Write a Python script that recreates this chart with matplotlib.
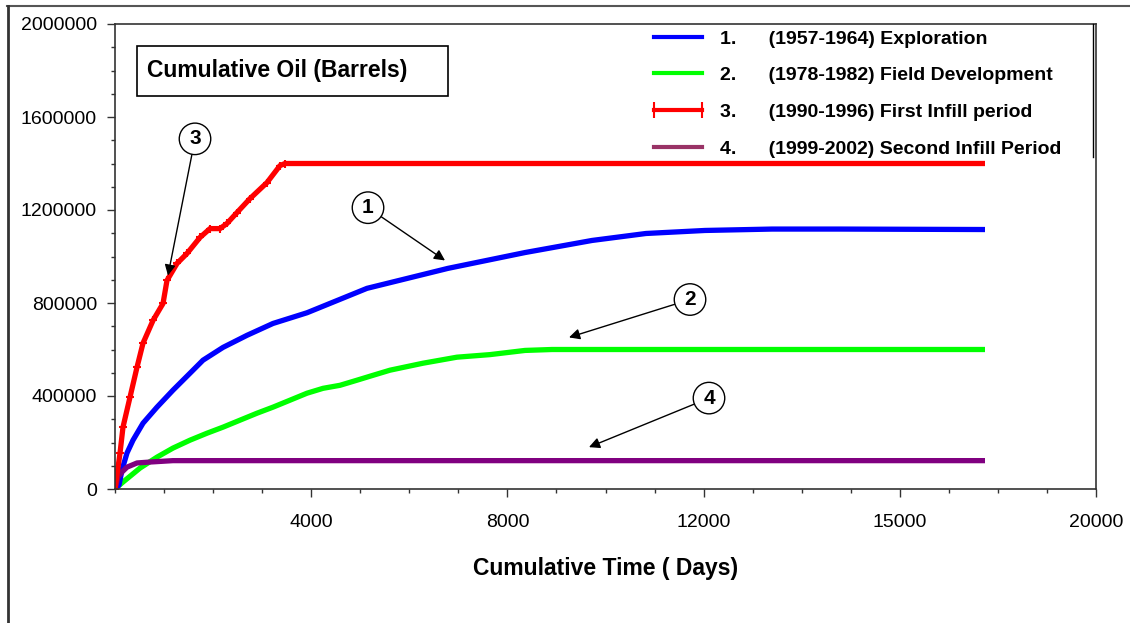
import matplotlib
matplotlib.use("Agg")
import matplotlib.pyplot as plt
from matplotlib.lines import Line2D
from matplotlib.patches import Rectangle
from matplotlib.ticker import MultipleLocator

plt.rcParams['font.family'] = ['Liberation Sans', 'DejaVu Sans']

# Kurve 1: Exploration (1957-1964)
days_1 = [0, 82, 143, 245, 367, 571, 856, 1182, 1529, 1794, 2202, 2691, 3221, 3914,
          5137, 6789, 8359, 9725, 10825, 12028, 13394, 14780, 17737]
oil_1 = [0, 17000, 82000, 155000, 210000, 283000, 352000, 425000, 498000, 554000,
         609000, 661000, 712000, 758000, 863000, 949000, 1017000, 1069000, 1099000,
         1112000, 1118000, 1118000, 1116000]

# Kurve 2: Field Development (1978-1982)
days_2 = [0, 163, 510, 856, 1182, 1529, 1876, 2202, 2548, 2895, 3221, 3568, 3914,
          4241, 4587, 4934, 5260, 5606, 6279, 6972, 7645, 8359, 8909, 17737]
oil_2 = [0, 30000, 90000, 137000, 176000, 210000, 240000, 266000, 296000, 326000,
         352000, 382000, 412000, 433000, 446000, 468000, 489000, 511000, 541000,
         567000, 578000, 596000, 600000, 600000]

# Kurve 3: First Infill period (1990-1996)
days_3 = [0, 102, 163, 306, 449, 571, 775, 979, 1060, 1264, 1468, 1733, 1937, 2141,
          2283, 2487, 2752, 3099, 3364, 3466, 17737]
oil_3 = [0, 154000, 266000, 395000, 524000, 627000, 725000, 798000, 897000, 970000,
         1013000, 1082000, 1120000, 1120000, 1142000, 1189000, 1249000, 1318000,
         1391000, 1400000, 1400000]

# Kurve 4: Second Infill Period (1999-2002)
days_4 = [0, 61, 143, 245, 449, 714, 1182, 17737]
oil_4 = [0, 52000, 73000, 94000, 112000, 116000, 122000, 122000]

labels = ["1.      (1957-1964) Exploration",
          "2.      (1978-1982) Field Development",
          "3.      (1990-1996) First Infill period",
          "4.      (1999-2002) Second Infill Period"]

x_ticks = [4000, 8000, 12000, 16000, 20000]
x_tick_labels = ["4000", "8000", "12000", "15000", "20000"]
y_ticks = [0, 400000, 800000, 1200000, 1600000, 2000000]

# Nummern-Kreise: (Text, Pfeilspitze, Kreismitte)
callouts = [("3", (1080, 918000), (1631, 1506000)),
            ("1", (6728, 983000), (5158, 1210000)),
            ("2", (9256, 652000), (11723, 815000)),
            ("4", (9663, 180000), (12110, 391000))]

fig = plt.figure(figsize=(11.3, 6.23), dpi=100)
ax = fig.add_axes([115 / 1130, 1 - 489 / 623, 981 / 1130, 465 / 623])

ax.plot(days_2, oil_2, color='#00ff00', lw=3.8, solid_capstyle='butt')
ax.plot(days_1, oil_1, color='#0000ff', lw=3.8, solid_capstyle='butt')
ax.plot(days_4, oil_4, color='#800080', lw=3.8, solid_capstyle='butt')
ax.plot(days_3, oil_3, color='#ff0000', lw=3.8, marker='+', ms=6, mew=1.5,
        markevery=slice(0, -1), solid_capstyle='butt')

ax.set_xlim(0, 20000)
ax.set_ylim(0, 2000000)
ax.set_xticks(x_ticks)
ax.set_xticklabels(x_tick_labels)
ax.set_yticks(y_ticks)
ax.set_yticklabels([str(v) for v in y_ticks])
ax.xaxis.set_minor_locator(MultipleLocator(1000))
ax.yaxis.set_minor_locator(MultipleLocator(100000))
ax.tick_params(which='major', direction='out', length=6, width=1, color='#333333',
               labelsize=14)
ax.tick_params(which='minor', direction='out', length=3, width=1, color='#333333')
ax.tick_params(axis='x', which='major', pad=12)
ax.tick_params(axis='y', which='major', pad=7)
for s in ax.spines.values():
    s.set_color('#333333')
    s.set_linewidth(1.2)

ax.set_xlabel("Cumulative Time ( Days)", fontsize=16.5, fontweight='bold', labelpad=19)

# Textkasten oben links
ax.add_patch(Rectangle((0.0224, 0.845), 0.317, 0.1075, transform=ax.transAxes,
                       fill=False, ec='black', lw=1.2))
ax.text(0.0326, 0.899, "Cumulative Oil (Barrels)", transform=ax.transAxes,
        fontsize=16.5, fontweight='bold', va='center', ha='left')

for num, tip, pos in callouts:
    ax.annotate(num, xy=tip, xytext=pos, ha='center', va='center',
                fontsize=15, fontweight='bold',
                bbox=dict(boxstyle='circle,pad=0.3', fc='white', ec='black', lw=1),
                arrowprops=dict(arrowstyle='-|>', color='black', lw=1,
                                mutation_scale=16, shrinkA=0, shrinkB=0))

handles = [Line2D([], [], color='#0000ff', lw=3),
           Line2D([], [], color='#00ff00', lw=3),
           Line2D([], [], color='#ff0000', lw=3, marker='|', ms=12, mew=1.5),
           Line2D([], [], color='#993366', lw=3)]
ax.legend(handles, labels, loc='upper left', bbox_to_anchor=(648 / 1130, 1 - 30 / 623),
          bbox_transform=fig.transFigure, frameon=False, borderpad=0, borderaxespad=0,
          handlelength=3.1, handletextpad=0.6, labelspacing=0.98, numpoints=2,
          prop={'weight': 'bold', 'size': 14})

# Rahmenlinien
fig.add_artist(Line2D([1093 / 1130, 1093 / 1130], [1 - 24 / 623, 1 - 157 / 623],
                      color='black', lw=1))
fig.add_artist(Line2D([7 / 1130, 1], [1 - 6 / 623, 1 - 6 / 623], color='#555555', lw=1.5))
fig.add_artist(Line2D([7.5 / 1130, 7.5 / 1130], [0, 1 - 6 / 623], color='#333333', lw=2))

fig.savefig("out.png", dpi=100)
